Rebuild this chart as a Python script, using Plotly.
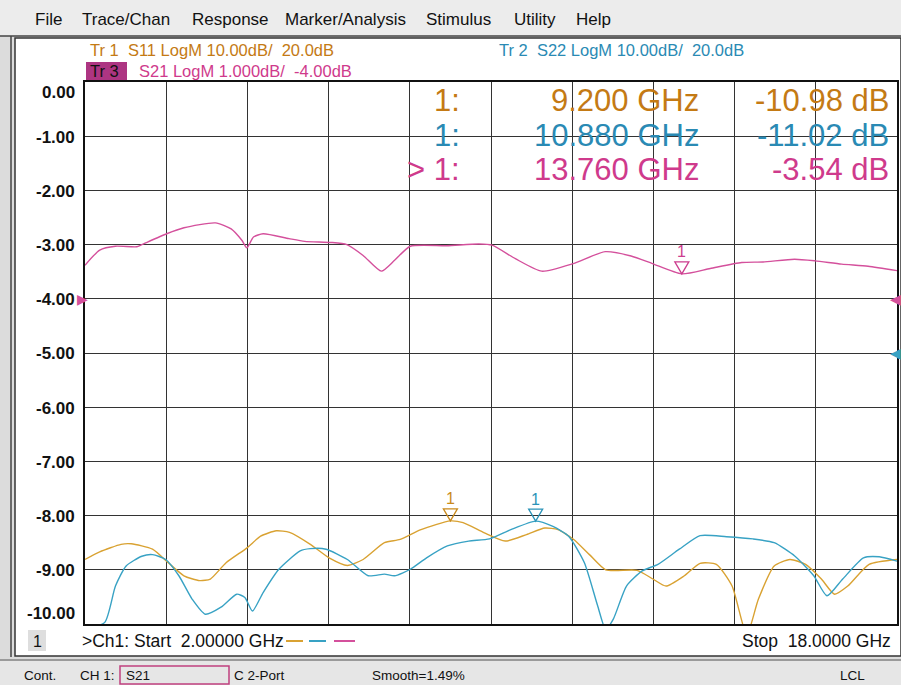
import plotly.graph_objects as go

W, H = 901, 685

# ---------------- data ----------------
s21_freq = [2.00, 2.29, 2.60, 3.02, 3.12, 3.61, 3.95, 4.57, 4.88, 5.09, 5.19, 5.32, 5.51, 6.02, 6.33,
            6.85, 7.16, 7.48, 7.84, 8.10, 8.41, 9.13, 9.76, 10.02, 10.48, 11.00, 11.62, 12.25, 12.76,
            13.18, 13.76, 14.32, 14.94, 15.36, 15.98, 16.39, 16.91, 17.43, 18.00]
s21_db = [-3.38, -3.10, -3.03, -3.04, -3.00, -2.80, -2.69, -2.60, -2.71, -2.92, -3.06, -2.86, -2.80, -2.89, -2.94,
          -2.96, -3.00, -3.20, -3.49, -3.29, -3.03, -3.02, -2.99, -3.01, -3.26, -3.49, -3.35, -3.13, -3.21,
          -3.35, -3.54, -3.44, -3.33, -3.32, -3.27, -3.30, -3.36, -3.40, -3.48]

s11_freq = [2.00, 2.29, 2.71, 2.91, 3.33, 3.64, 3.95, 4.26, 4.47, 4.78, 5.20, 5.46, 5.77, 6.03, 6.44,
            6.81, 7.17, 7.48, 7.90, 8.21, 8.62, 9.20, 9.45, 9.87, 10.28, 10.70, 11.06, 11.32, 11.63,
            11.94, 12.26, 12.88, 13.19, 13.45, 13.81, 14.12, 14.44, 14.75, 15.04, 15.27, 15.58, 15.89,
            16.20, 16.51, 16.77, 17.03, 17.45, 18.00]
s11_db = [-18.1, -16.7, -15.3, -15.2, -16.2, -18.7, -21.1, -22.0, -21.7, -18.7, -15.9, -13.8, -12.8, -13.1, -15.3,
          -17.8, -19.2, -18.1, -15.0, -14.4, -12.6, -10.98, -11.3, -13.2, -14.7, -13.5, -12.3, -12.6, -14.4,
          -17.2, -20.0, -20.1, -21.7, -23.0, -21.1, -18.8, -19.0, -23.0, -32.0, -25.4, -19.3, -18.1,
          -19.0, -21.7, -24.5, -23.0, -19.0, -18.1]

s22_freq = [2.00, 2.39, 2.60, 2.81, 3.12, 3.33, 3.59, 3.85, 4.11, 4.37, 4.68, 4.99, 5.15, 5.30, 5.51,
            5.82, 6.24, 6.44, 6.75, 7.17, 7.58, 7.90, 8.10, 8.41, 8.73, 9.14, 9.56, 9.97, 10.39, 10.88,
            11.22, 11.53, 11.84, 12.10, 12.26, 12.41, 12.67, 12.98, 13.29, 13.71, 14.12, 14.64, 15.16,
            15.58, 15.99, 16.36, 16.62, 16.93, 17.34, 17.65, 18.00]
s22_db = [-31.0, -29.7, -23.0, -19.3, -17.5, -17.2, -18.1, -21.1, -25.4, -28.2, -26.9, -24.5, -25.1, -27.6, -24.2,
          -19.9, -16.5, -16.1, -16.2, -18.1, -21.1, -20.8, -21.1, -19.9, -17.8, -15.6, -14.7, -14.3, -12.6, -11.02,
          -12.0, -13.8, -18.7, -26.6, -31.0, -29.1, -23.0, -20.2, -19.0, -16.2, -13.7, -13.9, -14.3,
          -15.0, -17.5, -21.1, -24.8, -21.7, -17.8, -17.6, -18.4]

y_ticks = [0, -1, -2, -3, -4, -5, -6, -7, -8, -9, -10]
y_tick_labels = ["0.00", "-1.00", "-2.00", "-3.00", "-4.00", "-5.00", "-6.00", "-7.00", "-8.00", "-9.00", "-10.00"]

markers = [  # (trace, freq, value, colour, axis)
    ("S11", 9.200, -10.98, "#c98a1c", "y2"),
    ("S22", 10.880, -11.02, "#2b93b8", "y2"),
    ("S21", 13.760, -3.54, "#cc3d8e", "y"),
]

C_S11_TXT = "#c47a14"
C_S22_TXT = "#2a8ab4"
C_S21_TXT = "#cf3a8c"
C_S11 = "#d9a232"
C_S22 = "#38a2c4"
C_S21 = "#d4509c"

# reference-level arrows: (side, level, colour, axis)
ref_arrows = [
    ("left", -4.0, C_S21, "y"),
    ("right", -4.0, C_S21, "y"),
    ("right", 20.0, C_S22, "y2"),
]

FONT = "Liberation Sans, Arial, sans-serif"


def px(x):
    return x / W


def py(y):
    return 1 - y / H


fig = go.Figure()

fig.add_trace(go.Scatter(x=s11_freq, y=s11_db, yaxis="y2", mode="lines",
                         line=dict(color=C_S11, width=1.4, shape="spline", smoothing=0.6), name="S11"))
fig.add_trace(go.Scatter(x=s22_freq, y=s22_db, yaxis="y2", mode="lines",
                         line=dict(color=C_S22, width=1.4, shape="spline", smoothing=0.6), name="S22"))
fig.add_trace(go.Scatter(x=s21_freq, y=s21_db, yaxis="y", mode="lines",
                         line=dict(color=C_S21, width=1.4, shape="spline", smoothing=0.6), name="S21"))

shapes = []
ann = []

# window chrome
shapes.append(dict(type="rect", xref="paper", yref="paper", x0=0, x1=1, y0=0, y1=1,
                   fillcolor="#dcdcdc", line=dict(width=0), layer="below"))
shapes.append(dict(type="rect", xref="paper", yref="paper", x0=0, x1=1, y0=py(36), y1=1,
                   fillcolor="#ececec", line=dict(width=0), layer="below"))
shapes.append(dict(type="rect", xref="paper", yref="paper", x0=px(15), x1=1, y0=py(656), y1=py(38),
                   fillcolor="white", line=dict(color="#333", width=1.5), layer="below"))
shapes.append(dict(type="line", xref="paper", yref="paper", x0=px(11), x1=px(11), y0=py(657), y1=py(36),
                   line=dict(color="#444", width=1.5)))
shapes.append(dict(type="line", xref="paper", yref="paper", x0=0, x1=1, y0=py(36), y1=py(36),
                   line=dict(color="#444", width=1.5)))
shapes.append(dict(type="rect", xref="paper", yref="paper", x0=0, x1=1, y0=0, y1=py(660),
                   fillcolor="#e6e6e6", line=dict(width=0), layer="below"))
shapes.append(dict(type="line", xref="paper", yref="paper", x0=0, x1=1, y0=py(660), y1=py(660),
                   line=dict(color="#9a9a9a", width=2)))

# menu
for txt, x in [("File", 33), ("Trace/Chan", 80), ("Response", 190), ("Marker/Analysis", 283),
               ("Stimulus", 424), ("Utility", 512), ("Help", 574)]:
    ann.append(dict(text=txt, x=px(x), y=py(19), xref="paper", yref="paper", xanchor="left",
                    yanchor="middle", showarrow=False, font=dict(family=FONT, size=17, color="#111")))

# header
HF = 16.5
ann.append(dict(text="Tr 1  S11 LogM 10.00dB/  20.0dB", x=px(88), y=py(50), xref="paper", yref="paper",
                xanchor="left", yanchor="middle", showarrow=False, font=dict(family=FONT, size=HF, color=C_S11_TXT)))
ann.append(dict(text="Tr 2  S22 LogM 10.00dB/  20.0dB", x=px(497), y=py(50), xref="paper", yref="paper",
                xanchor="left", yanchor="middle", showarrow=False, font=dict(family=FONT, size=HF, color=C_S22_TXT)))
shapes.append(dict(type="rect", xref="paper", yref="paper", x0=px(86), x1=px(127), y0=py(80), y1=py(62),
                   fillcolor="#ad3582", line=dict(width=0)))
ann.append(dict(text="Tr 3", x=px(88), y=py(71), xref="paper", yref="paper",
                xanchor="left", yanchor="middle", showarrow=False, font=dict(family=FONT, size=HF, color="#111")))
ann.append(dict(text="S21 LogM 1.000dB/  -4.00dB", x=px(137), y=py(71), xref="paper", yref="paper",
                xanchor="left", yanchor="middle", showarrow=False, font=dict(family=FONT, size=HF, color=C_S21_TXT)))

# marker readout
rows = [("1:", "9.200 GHz", "-10.98 dB", C_S11_TXT, 101),
        ("1:", "10.880 GHz", "-11.02 dB", C_S22_TXT, 135),
        ("> 1:", "13.760 GHz", "-3.54 dB", C_S21_TXT, 169)]
for a, b, c, col, y in rows:
    for t, x in [(a, 462), (b, 701), (c, 891)]:
        ann.append(dict(text=t, x=px(x), y=py(y), xref="paper", yref="paper", xanchor="right",
                        yanchor="middle", showarrow=False, font=dict(family=FONT, size=31, color=col)))

# y tick labels
for v, lab in zip(y_ticks, y_tick_labels):
    shift = -11 if v == 0 else (11 if v == -10 else -1)
    ann.append(dict(text="<b>%s</b>" % lab, x=px(77), xref="paper", y=v, yref="y", yshift=shift,
                    xanchor="right", yanchor="middle", showarrow=False,
                    font=dict(family=FONT, size=17, color="#111")))

# reference arrows at plot edges
for side, lv, col, yr in ref_arrows:
    if side == "left":
        ann.append(dict(text="\u25B6", x=px(89), xref="paper", y=lv, yref=yr, xanchor="right",
                        yanchor="middle", showarrow=False, borderpad=0,
                        font=dict(family="DejaVu Sans", size=14, color=col)))
    else:
        ann.append(dict(text="\u25C0", x=px(902), xref="paper", y=lv, yref=yr, xanchor="right",
                        yanchor="middle", showarrow=False, borderpad=0,
                        font=dict(family="DejaVu Sans", size=14, color=col)))

# markers on traces
for name, f, v, col, yr in markers:
    shapes.append(dict(type="path", xref="x", yref=yr, xsizemode="pixel", ysizemode="pixel",
                       xanchor=f, yanchor=v, path="M 0 0 L -7 12 L 7 12 Z",
                       fillcolor="rgba(0,0,0,0)", line=dict(color=col, width=1.3)))
    ann.append(dict(text="1", x=f, y=v, xref="x", yref=yr, yshift=22, showarrow=False,
                    xanchor="center", yanchor="middle", font=dict(family=FONT, size=16, color=col)))

# bottom row
shapes.append(dict(type="rect", xref="paper", yref="paper", x0=px(28), x1=px(46), y0=py(651), y1=py(630),
                   fillcolor="#dedede", line=dict(width=0)))
ann.append(dict(text="1", x=px(37), y=py(641), xref="paper", yref="paper", xanchor="center",
                yanchor="middle", showarrow=False, font=dict(family=FONT, size=16, color="#111")))
ann.append(dict(text=">Ch1: Start  2.00000 GHz", x=px(80), y=py(641), xref="paper", yref="paper",
                xanchor="left", yanchor="middle", showarrow=False, font=dict(family=FONT, size=17.5, color="#111")))
for col, x0, x1 in [(C_S11, 286, 303), (C_S22, 309, 326), (C_S21, 334, 355)]:
    shapes.append(dict(type="line", xref="paper", yref="paper", x0=px(x0), x1=px(x1), y0=py(641), y1=py(641),
                       line=dict(color=col, width=2)))
ann.append(dict(text="Stop  18.0000 GHz", x=px(893), y=py(641), xref="paper", yref="paper",
                xanchor="right", yanchor="middle", showarrow=False, font=dict(family=FONT, size=17.5, color="#111")))

# status bar
for t, x in [("Cont.", 22), ("CH 1:", 78), ("S21", 124), ("C 2-Port", 232), ("Smooth=1.49%", 370), ("LCL", 838)]:
    ann.append(dict(text=t, x=px(x), y=py(675), xref="paper", yref="paper", xanchor="left",
                    yanchor="middle", showarrow=False, font=dict(family=FONT, size=13.5, color="#111")))
shapes.append(dict(type="rect", xref="paper", yref="paper", x0=px(120), x1=px(229), y0=py(684), y1=py(666),
                   fillcolor="rgba(0,0,0,0)", line=dict(color="#c0407f", width=1.5)))

fig.update_layout(
    width=W, height=H, margin=dict(l=0, r=0, t=0, b=0),
    paper_bgcolor="#dcdcdc", plot_bgcolor="white", showlegend=False,
    shapes=shapes, annotations=ann,
    xaxis=dict(domain=[px(85), px(897)], range=[2, 18], tick0=2, dtick=1.6, showgrid=True,
               gridcolor="#333", gridwidth=1, showticklabels=False, ticks="", zeroline=False,
               showline=True, mirror=True, linecolor="#111", linewidth=1.5),
    yaxis=dict(domain=[py(624), py(82)], range=[-10, 0], dtick=1, showgrid=True, gridcolor="#333",
               gridwidth=1, showticklabels=False, ticks="", zeroline=False,
               showline=True, mirror=True, linecolor="#111", linewidth=1.5),
    yaxis2=dict(domain=[py(624), py(82)], range=[-30, 70], overlaying="y", showgrid=False,
                showticklabels=False, ticks="", zeroline=False, showline=False),
)

fig.write_html("out.html", config=dict(displayModeBar=False),
               post_script="document.body.style.margin='0';document.body.style.overflow='hidden';")
